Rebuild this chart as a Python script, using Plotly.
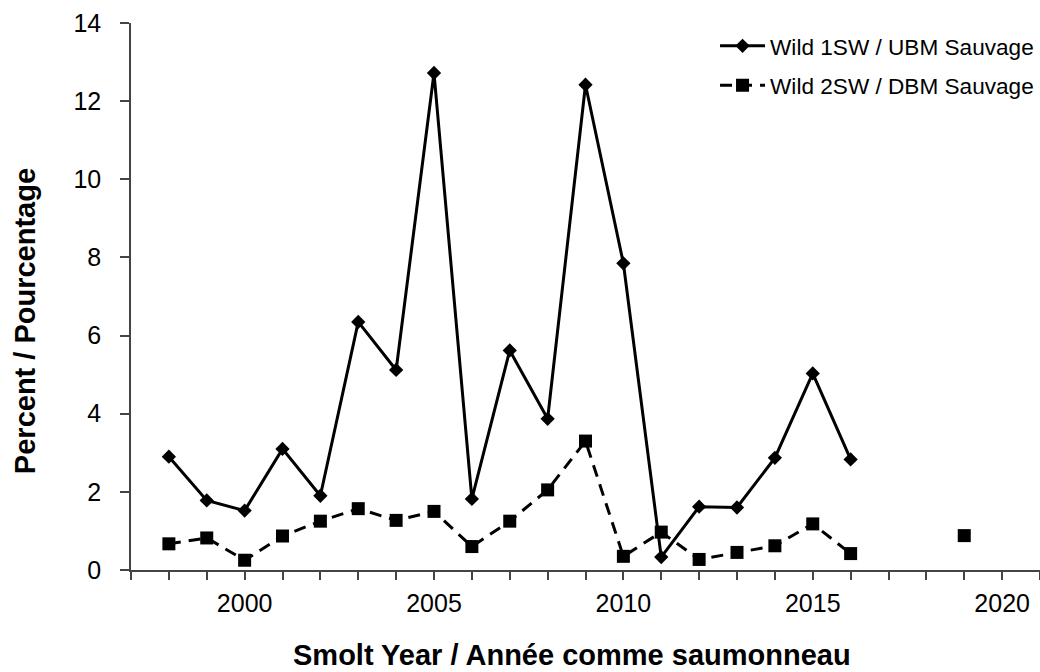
import plotly.graph_objects as go

years = list(range(1998, 2020))
wild_1sw = [2.9, 1.78, 1.52, 3.1, 1.9, 6.35, 5.12, 12.72, 1.82, 5.62, 3.87, 12.42, 7.85, 0.33,
            1.62, 1.6, 2.87, 5.03, 2.83, None, None, None]
wild_2sw = [0.67, 0.82, 0.25, 0.87, 1.25, 1.57, 1.27, 1.5, 0.6, 1.25, 2.05, 3.3, 0.35, 0.97,
            0.27, 0.45, 0.62, 1.18, 0.42, None, None, 0.88]
series_names = ["Wild 1SW / UBM Sauvage", "Wild 2SW / DBM Sauvage"]
x_title = "Smolt Year / Année comme saumonneau"
y_title = "Percent / Pourcentage"

FONT = "Liberation Sans, Arial, sans-serif"

fig = go.Figure()
fig.add_trace(go.Scatter(
    x=years, y=wild_1sw, name=series_names[0], mode="lines+markers",
    line=dict(color="black", width=3),
    marker=dict(symbol="diamond", size=11, color="black"),
    connectgaps=False, legendgroup="a"))
fig.add_trace(go.Scatter(
    x=years, y=wild_2sw, name=series_names[1], mode="lines+markers",
    line=dict(color="black", width=3, dash="12px,8px"),
    marker=dict(symbol="square", size=13, color="black"),
    connectgaps=False, legendgroup="b"))

axis_common = dict(showline=True, linecolor="#444", linewidth=1.5, showgrid=False,
                   zeroline=False, ticks="outside", tickcolor="#444", tickwidth=1.5,
                   tickfont=dict(family=FONT, size=25, color="black"))

fig.update_xaxes(range=[1997, 2021], tick0=2000, dtick=5, ticklen=8,
                 minor=dict(dtick=1, tick0=1997, ticks="outside", ticklen=8,
                            tickcolor="#444", tickwidth=1.5),
                 ticklabelstandoff=2, **axis_common)
fig.update_yaxes(range=[0, 14], dtick=2, ticklen=9, ticklabelstandoff=14, **axis_common)

fig.update_layout(
    width=1040, height=672,
    margin=dict(l=131, r=0, t=23, b=102),
    paper_bgcolor="white", plot_bgcolor="white",
    showlegend=True,
    legend=dict(x=0.6425, y=0.997, xanchor="left", yanchor="top",
                font=dict(family=FONT, size=22.6, color="black"),
                traceorder="grouped", tracegroupgap=7, itemwidth=45,
                bgcolor="rgba(0,0,0,0)"),
    annotations=[
        dict(text=x_title, xref="paper", yref="paper", x=0.4846, y=-0.155,
             xanchor="center", yanchor="middle", showarrow=False,
             font=dict(family=FONT, size=29, color="black", weight="bold")),
        dict(text=y_title, xref="paper", yref="paper", x=-0.1166, y=0.455,
             xanchor="center", yanchor="middle", showarrow=False, textangle=-90,
             font=dict(family=FONT, size=29, color="black", weight="bold")),
    ],
)

fig.write_html("out.html", config={"displayModeBar": False},
               post_script="document.body.style.margin='0';document.body.style.overflow='hidden';")
